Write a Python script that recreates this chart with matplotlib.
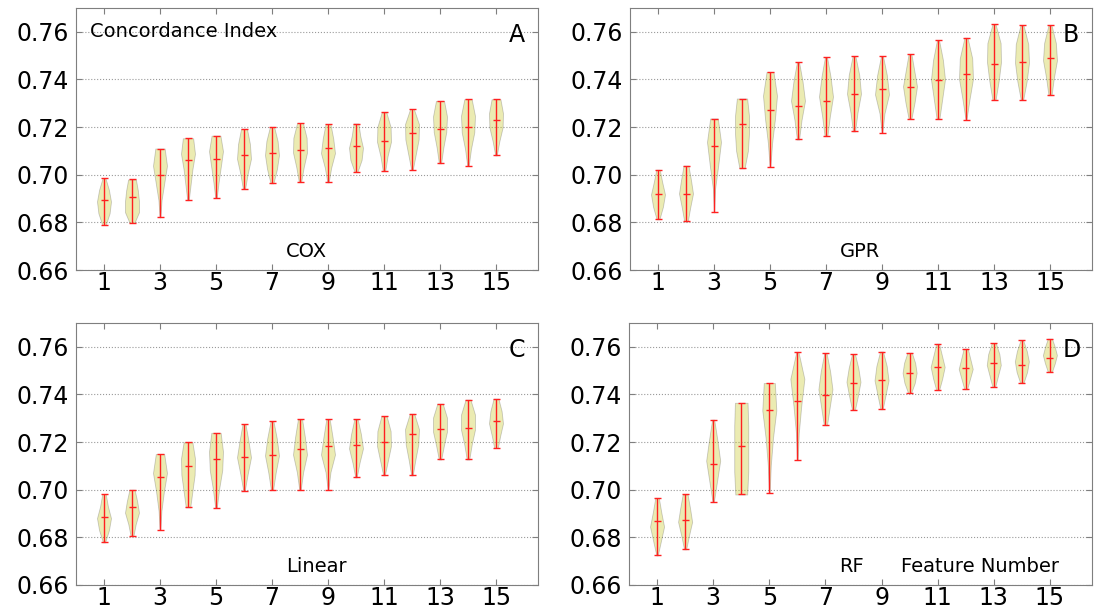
import numpy as np
import matplotlib
matplotlib.use("Agg")
import matplotlib.pyplot as plt

features = list(range(1, 16))
xticks = [1, 3, 5, 7, 9, 11, 13, 15]
yticks = [0.66, 0.68, 0.70, 0.72, 0.74, 0.76]

# COX
cox_min = [0.6789, 0.6797, 0.6821, 0.6893, 0.6903, 0.6941, 0.6964, 0.6969,
           0.6968, 0.7011, 0.7015, 0.7020, 0.7048, 0.7038, 0.7081]
cox_med = [0.6894, 0.6906, 0.6999, 0.7061, 0.7066, 0.7083, 0.7090, 0.7104,
           0.7113, 0.7119, 0.7141, 0.7175, 0.7192, 0.7199, 0.7231]
cox_max = [0.6986, 0.6980, 0.7110, 0.7153, 0.7164, 0.7193, 0.7201, 0.7217,
           0.7213, 0.7215, 0.7262, 0.7276, 0.7310, 0.7317, 0.7317]
cox_shape = [[0.25, 0.8, 1.0, 0.7, 0.2], [0.3, 0.9, 0.9, 0.75, 0.5],
             [0.05, 0.2, 0.55, 0.9, 0.6], [0.1, 0.35, 0.6, 0.95, 0.7],
             [0.1, 0.35, 0.65, 0.95, 0.6], [0.15, 0.5, 0.95, 0.8, 0.4],
             [0.2, 0.7, 1.0, 0.8, 0.3], [0.15, 0.5, 0.95, 0.9, 0.4],
             [0.1, 0.45, 1.0, 0.75, 0.35], [0.2, 0.8, 1.0, 0.6, 0.35],
             [0.15, 0.45, 0.9, 0.85, 0.3], [0.1, 0.5, 0.9, 0.95, 0.25],
             [0.15, 0.45, 0.85, 0.95, 0.55], [0.1, 0.4, 0.85, 0.95, 0.5],
             [0.1, 0.45, 0.9, 0.95, 0.6]]

# GPR
gpr_min = [0.6813, 0.6804, 0.6842, 0.7027, 0.7034, 0.7148, 0.7162, 0.7182,
           0.7177, 0.7235, 0.7235, 0.7230, 0.7314, 0.7314, 0.7334]
gpr_med = [0.6919, 0.6919, 0.7119, 0.7213, 0.7270, 0.7288, 0.7308, 0.7340,
           0.7359, 0.7368, 0.7397, 0.7424, 0.7465, 0.7473, 0.7489]
gpr_max = [0.7021, 0.7038, 0.7236, 0.7320, 0.7431, 0.7473, 0.7494, 0.7498,
           0.7497, 0.7507, 0.7565, 0.7575, 0.7632, 0.7627, 0.7627]
gpr_shape = [[0.2, 0.7, 1.0, 0.6, 0.25], [0.25, 0.6, 1.0, 0.7, 0.35],
             [0.02, 0.15, 0.6, 1.0, 0.55], [0.35, 0.8, 0.95, 0.95, 0.7],
             [0.05, 0.3, 0.7, 1.0, 0.5], [0.15, 0.5, 1.0, 0.65, 0.15],
             [0.2, 0.55, 1.0, 0.65, 0.15], [0.15, 0.5, 1.0, 0.75, 0.2],
             [0.05, 0.35, 1.0, 0.7, 0.15], [0.2, 0.65, 1.0, 0.6, 0.2],
             [0.2, 0.6, 1.0, 0.7, 0.15], [0.05, 0.45, 0.9, 0.8, 0.2],
             [0.2, 0.6, 0.9, 0.85, 0.2], [0.15, 0.6, 0.9, 0.8, 0.2],
             [0.2, 0.5, 0.9, 0.75, 0.2]]

# Linear
lin_min = [0.6779, 0.6807, 0.6831, 0.6926, 0.6924, 0.6996, 0.7000, 0.7000,
           0.7000, 0.7052, 0.7060, 0.7060, 0.7127, 0.7127, 0.7175]
lin_med = [0.6884, 0.6926, 0.7053, 0.7101, 0.7131, 0.7137, 0.7145, 0.7171,
           0.7183, 0.7186, 0.7199, 0.7236, 0.7253, 0.7258, 0.7289]
lin_max = [0.6982, 0.7000, 0.7150, 0.7199, 0.7239, 0.7276, 0.7287, 0.7295,
           0.7295, 0.7295, 0.7308, 0.7319, 0.7361, 0.7378, 0.7382]
lin_shape = [[0.15, 0.7, 1.0, 0.55, 0.25], [0.2, 0.5, 0.95, 0.7, 0.35],
             [0.05, 0.2, 0.55, 1.0, 0.6], [0.3, 0.6, 0.9, 0.95, 0.6],
             [0.1, 0.4, 0.8, 0.9, 0.6], [0.1, 0.5, 0.95, 0.6, 0.2],
             [0.15, 0.5, 0.95, 0.65, 0.2], [0.1, 0.45, 1.0, 0.7, 0.3],
             [0.05, 0.35, 1.0, 0.65, 0.25], [0.1, 0.5, 1.0, 0.7, 0.25],
             [0.1, 0.5, 0.9, 0.85, 0.35], [0.1, 0.45, 0.85, 0.95, 0.3],
             [0.15, 0.5, 0.9, 0.9, 0.35], [0.15, 0.45, 0.85, 0.85, 0.3],
             [0.25, 0.6, 1.0, 0.8, 0.35]]

# RF
rf_min = [0.6724, 0.6750, 0.6950, 0.6980, 0.6987, 0.7124, 0.7271, 0.7336,
          0.7338, 0.7406, 0.7418, 0.7422, 0.7432, 0.7450, 0.7496]
rf_med = [0.6867, 0.6874, 0.7108, 0.7183, 0.7334, 0.7372, 0.7397, 0.7450,
          0.7459, 0.7492, 0.7517, 0.7509, 0.7533, 0.7522, 0.7551]
rf_max = [0.6966, 0.6980, 0.7294, 0.7365, 0.7448, 0.7579, 0.7573, 0.7570,
          0.7580, 0.7575, 0.7613, 0.7592, 0.7615, 0.7627, 0.7634]
rf_shape = [[0.1, 0.55, 1.0, 0.6, 0.25], [0.15, 0.55, 1.0, 0.7, 0.35],
            [0.1, 0.55, 1.0, 0.6, 0.15], [0.85, 1.0, 1.0, 1.0, 0.9],
            [0.05, 0.2, 0.5, 0.95, 0.75], [0.05, 0.2, 0.55, 1.0, 0.15],
            [0.2, 0.55, 0.9, 0.6, 0.15], [0.2, 0.6, 0.95, 0.65, 0.2],
            [0.15, 0.55, 0.95, 0.7, 0.2], [0.2, 0.7, 0.95, 0.75, 0.3],
            [0.2, 0.65, 1.0, 0.6, 0.2], [0.2, 0.6, 1.0, 0.65, 0.3],
            [0.2, 0.6, 1.0, 0.8, 0.3], [0.25, 0.75, 1.0, 0.7, 0.2],
            [0.3, 0.7, 1.0, 0.7, 0.3]]

panels = [
    ("A", "COX", cox_min, cox_med, cox_max, cox_shape),
    ("B", "GPR", gpr_min, gpr_med, gpr_max, gpr_shape),
    ("C", "Linear", lin_min, lin_med, lin_max, lin_shape),
    ("D", "RF", rf_min, rf_med, rf_max, rf_shape),
]

# axes boxes in pixels (left, top, right, bottom)
boxes = [(76, 8, 538, 270), (630, 8, 1092, 270),
         (76, 323, 538, 585), (629, 323, 1092, 585)]

W, H = 1094, 611


def make_stats(mins, meds, maxs, shapes):
    stats = []
    for lo, md, hi, shp in zip(mins, meds, maxs, shapes):
        stats.append({
            'coords': np.linspace(lo, hi, len(shp)),
            'vals': np.array(shp),
            'mean': md, 'median': md, 'min': lo, 'max': hi,
            'quantiles': [],
        })
    return stats


def main():
    fig = plt.figure(figsize=(W / 100, H / 100), dpi=100)
    spine_col = '#7f7f7f'

    for (letter, name, mins, meds, maxs, shapes), (l, t, r, b) in zip(panels, boxes):
        ax = fig.add_axes([l / W, 1 - b / H, (r - l) / W, (b - t) / H])
        parts = ax.violin(make_stats(mins, meds, maxs, shapes), positions=features,
                          widths=0.5, showmeans=False, showextrema=True, showmedians=True)
        for body in parts['bodies']:
            body.set_facecolor('y')
            body.set_edgecolor('#555555')
            body.set_alpha(0.3)
            body.set_linewidth(0.6)
        for key in ['cmins', 'cmaxes', 'cbars', 'cmedians']:
            parts[key].set_color('#ff2020')
            parts[key].set_linewidth(1.0)

        ax.set_xlim(0, 16.5)
        ax.set_ylim(0.66, 0.77)
        ax.set_xticks(xticks)
        ax.set_yticks(yticks)
        ax.set_yticklabels(['%.2f' % v for v in yticks])
        ax.yaxis.grid(True, linestyle=':', color='#9a9a9a', linewidth=0.8)
        ax.set_axisbelow(True)
        ax.tick_params(direction='in', top=True, right=True, length=4,
                       color=spine_col, labelsize=17)
        ax.tick_params(axis='x', pad=1)
        ax.tick_params(axis='y', pad=5)
        for sp in ax.spines.values():
            sp.set_color(spine_col)

        ax.text(15.45, 0.7585, letter, fontsize=17, va='center', ha='left')
        ax.text(7.5, 0.6676, name, fontsize=14, va='center', ha='left')
        if letter == 'A':
            ax.text(0.5, 0.760, 'Concordance Index', fontsize=14, va='center', ha='left')
        if letter == 'D':
            ax.text(9.7, 0.6676, 'Feature Number', fontsize=14, va='center', ha='left')

    fig.savefig('out.png', dpi=100)
    plt.close(fig)


if __name__ == "__main__":
    main()
